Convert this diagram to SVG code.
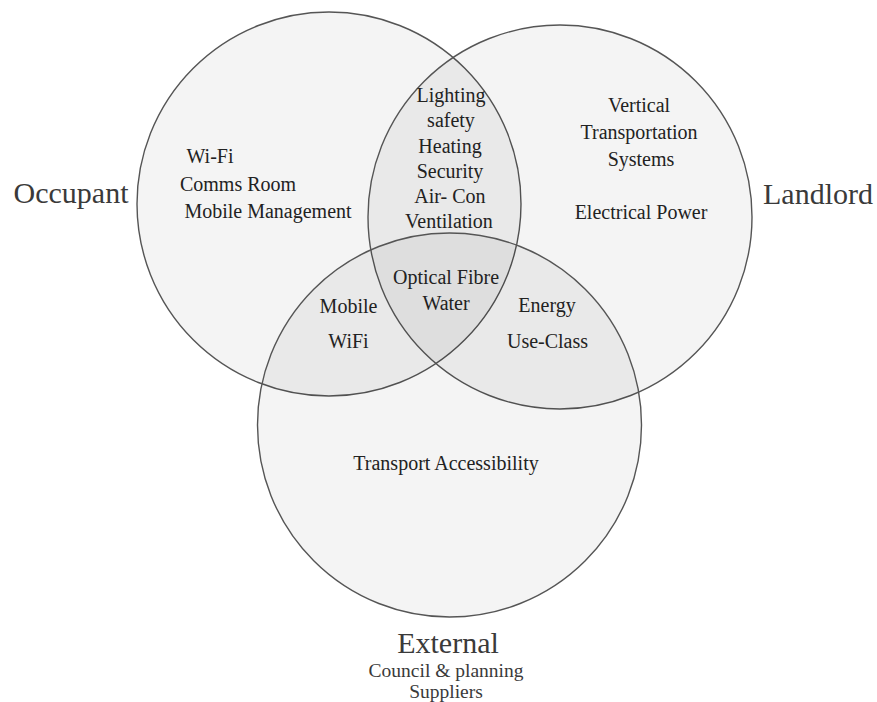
<svg xmlns="http://www.w3.org/2000/svg" width="877" height="702" viewBox="0 0 877 702">
  <style>
    .circ { fill: #000; fill-opacity: 0.045; stroke: #555; stroke-width: 1.4; }
    .t { font-family: "Liberation Serif", "Times New Roman", serif; font-size: 20px; fill: #222; text-anchor: middle; }
    .lbl { font-family: "Liberation Serif", "Times New Roman", serif; font-size: 30px; fill: #3a3a3a; text-anchor: middle; }
    .sub { font-family: "Liberation Serif", "Times New Roman", serif; font-size: 19.5px; fill: #3a3a3a; text-anchor: middle; }
  </style>
  <rect width="877" height="702" fill="#fff"/>
  <g id="occupant">
    <circle class="circ" cx="329" cy="204" r="192"/>
    <text class="lbl" x="71" y="203">Occupant</text>
    <text class="t" x="210" y="163">Wi-Fi</text>
    <text class="t" x="238" y="191">Comms Room</text>
    <text class="t" x="268" y="218">Mobile Management</text>
  </g>
  <g id="landlord">
    <circle class="circ" cx="560" cy="217" r="192"/>
    <text class="lbl" x="818" y="204">Landlord</text>
    <text class="t" x="639" y="112">Vertical</text>
    <text class="t" x="639" y="139">Transportation</text>
    <text class="t" x="641" y="166">Systems</text>
    <text class="t" x="641" y="219">Electrical Power</text>
  </g>
  <g id="external">
    <circle class="circ" cx="449.5" cy="425" r="192"/>
    <text class="lbl" x="448" y="653">External</text>
    <text class="sub" x="446" y="677">Council &amp; planning</text>
    <text class="sub" x="446" y="698">Suppliers</text>
    <text class="t" x="446" y="470">Transport Accessibility</text>
  </g>
  <g id="occupant-landlord">
    <text class="t" x="451" y="102">Lighting</text>
    <text class="t" x="451" y="127">safety</text>
    <text class="t" x="450" y="153">Heating</text>
    <text class="t" x="450" y="178">Security</text>
    <text class="t" x="450" y="203">Air- Con</text>
    <text class="t" x="449" y="228">Ventilation</text>
  </g>
  <g id="all-three">
    <text class="t" x="446" y="284">Optical Fibre</text>
    <text class="t" x="446" y="310">Water</text>
  </g>
  <g id="occupant-external">
    <text class="t" x="348.5" y="313">Mobile</text>
    <text class="t" x="348.5" y="348">WiFi</text>
  </g>
  <g id="landlord-external">
    <text class="t" x="547" y="312">Energy</text>
    <text class="t" x="547.5" y="348">Use-Class</text>
  </g>
  <g id="connectors"/>
</svg>
